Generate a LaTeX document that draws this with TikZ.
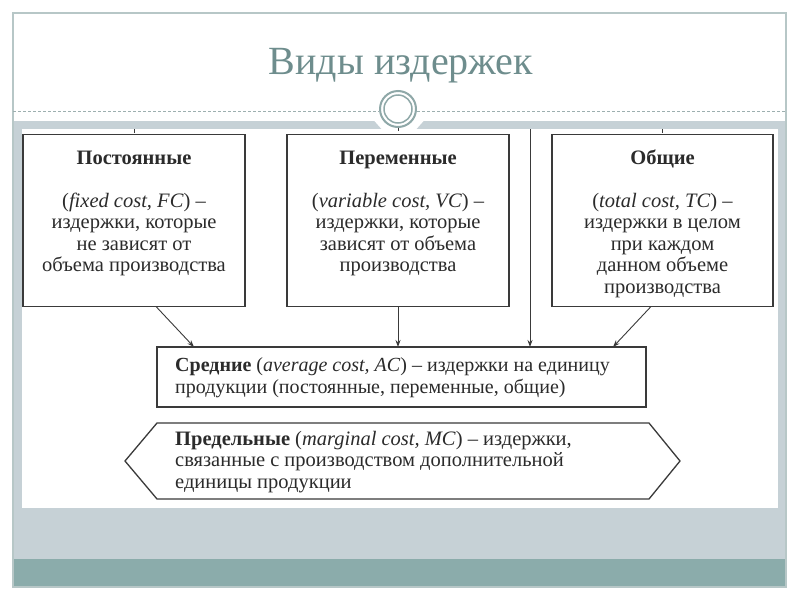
\documentclass[tikz,border=0pt]{standalone}
\usepackage{fontspec}
\setmainfont{Liberation Serif}
\usetikzlibrary{arrows.meta}
\definecolor{frameC}{HTML}{B7C7C7}
\definecolor{dashC}{HTML}{9DAFAF}
\definecolor{bandC}{HTML}{C6D1D6}
\definecolor{tealC}{HTML}{8BACAB}
\definecolor{titleC}{HTML}{6E8D8D}
\definecolor{ringC}{HTML}{8FA8A8}
\definecolor{inkC}{HTML}{2B2B2B}
\definecolor{lineC}{HTML}{3A3A3A}
\begin{document}
\begin{tikzpicture}[x=1pt,y=-1pt,
  box/.style={draw=lineC, line width=1.3pt, fill=white, inner sep=0pt, outer sep=0pt, minimum height=172pt},
  txt/.style={text=inkC, font=\fontsize{20.5}{21.5}\selectfont, inner sep=0pt, align=center},
  arr/.style={draw=lineC, line width=0.9pt, -{Stealth[length=7pt,width=5pt]}},
  tick/.style={draw=lineC, line width=0.8pt}]
\useasboundingbox (0,0) rectangle (800,600);
\fill[white] (0,0) rectangle (800,600);
% slide background
\fill[bandC] (13,121) rectangle (786,559);
\fill[tealC] (13,559) rectangle (786,587);
\fill[white] (22,129) rectangle (778,508);
\fill[white] (374,120.5) -- (424,120.5) -- (416,129.5) -- (382,129.5) -- cycle;
\draw[frameC, line width=1.5pt] (13,13) rectangle (786,587);
\draw[dashC, line width=0.8pt, dash pattern=on 3pt off 2pt] (13,111.5) -- (379,111.5);
\draw[dashC, line width=0.8pt, dash pattern=on 3pt off 2pt] (417,111.5) -- (786,111.5);
\draw[ringC, line width=2pt, fill=white] (398,109) circle (18pt);
\draw[ringC, line width=1.5pt] (398,109) circle (14pt);
% title
\node[text=titleC, font=\fontsize{40}{44}\selectfont] (title) at (401,66) {Виды издержек};
% top boxes
\node[box, minimum width=222pt] (fc) at (134,220.5) {};
\node[box, minimum width=222pt] (vc) at (398,220.5) {};
\node[box, minimum width=221pt] (tc) at (662.5,220.5) {};
\node[txt, anchor=north] (fct) at (134,149) {\strut\textbf{Постоянные}\\[21.5pt](\textit{fixed cost, FC}) –\\издержки, которые\\не зависят от\\объема производства};
\node[txt, anchor=north] (vct) at (398,149) {\strut\textbf{Переменные}\\[21.5pt](\textit{variable cost, VC}) –\\издержки, которые\\зависят от объема\\производства};
\node[txt, anchor=north] (tct) at (662.5,149) {\strut\textbf{Общие}\\[21.5pt](\textit{total cost, TC}) –\\издержки в целом\\при каждом\\данном объеме\\производства};
% ticks
\draw[tick] (134,129) -- (134,132.5);
\draw[tick] (398,127.5) -- (398,131);
\draw[tick] (662,129) -- (662,132.5);
% average box
\node[box, minimum width=489pt, minimum height=60pt] (ac) at (401.5,377) {};
\node[txt, font=\fontsize{20}{21.5}\selectfont, anchor=west, align=left] (act) at (175,377.5) {\textbf{Средние} (\textit{average cost, AC}) – издержки на единицу\\продукции (постоянные, переменные, общие)};
% marginal hexagon
\coordinate (h1) at (125,461);
\coordinate (h2) at (157,423);
\coordinate (h3) at (649,423);
\coordinate (h4) at (680,461);
\coordinate (h5) at (649,499);
\coordinate (h6) at (157,499);
\draw[lineC, line width=1.3pt, line join=miter] (h1) -- (h2) -- (h3) -- (h4) -- (h5) -- (h6) -- cycle;
\node[txt, anchor=west, align=left] (mct) at (175,462) {\textbf{Предельные} (\textit{marginal cost, MC}) – издержки,\\связанные с производством дополнительной\\единицы продукции};
% arrows
\coordinate (vtop) at (530,129);
\draw[arr] ([xshift=22pt]fc.south) -- ([xshift=-207.5pt]ac.north);
\draw[arr] (vc.south) -- ([xshift=-3.5pt]ac.north);
\draw[arr] (vtop) -- ([xshift=128.5pt]ac.north);
\draw[arr] ([xshift=-11.5pt]tc.south) -- ([xshift=211.5pt]ac.north);
\end{tikzpicture}
\end{document}
